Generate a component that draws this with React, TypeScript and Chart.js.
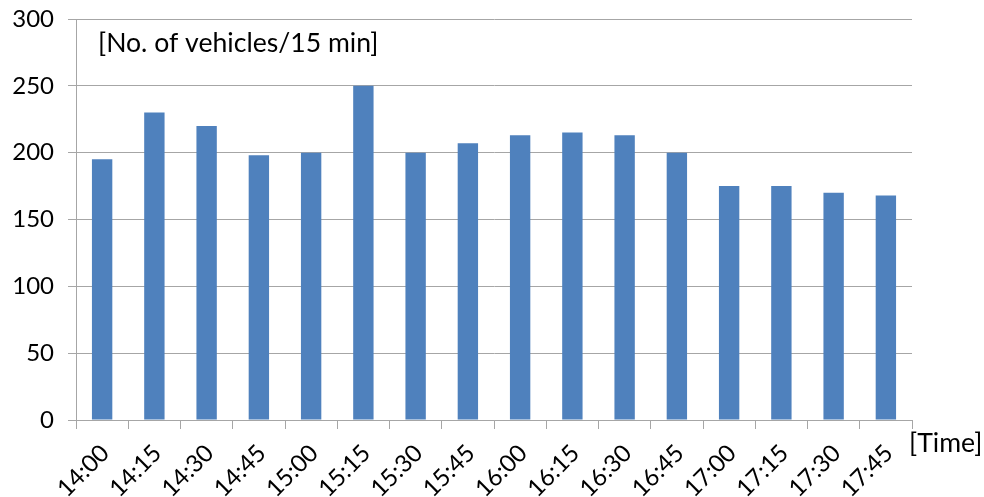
import React, { useEffect, useRef } from 'react';
import { Chart, registerables } from 'chart.js';

Chart.register(...registerables);

// Vehicle counts per 15-minute interval
const timeLabels = [
  '14:00', '14:15', '14:30', '14:45', '15:00', '15:15', '15:30', '15:45',
  '16:00', '16:15', '16:30', '16:45', '17:00', '17:15', '17:30', '17:45',
];
const vehicleCounts = [195, 230, 220, 198, 200, 250, 200, 207, 213, 215, 213, 200, 175, 175, 170, 168];
const yMin = 0;
const yMax = 300;
const yStep = 50;
const unitLabel = '[No. of vehicles/15 min]';
const axisTitle = '[Time]';

const FONT = 'Lato, "Open Sans", sans-serif';
const GRID = '#a6a6a6';
const BAR = '#4f81bd';

const annotationPlugin = {
  id: 'annotationText',
  afterDraw(chart: any) {
    const { ctx, chartArea } = chart;
    ctx.save();
    ctx.fillStyle = '#000';
    ctx.font = `26.6px ${FONT}`;
    ctx.textAlign = 'left';
    ctx.textBaseline = 'alphabetic';
    ctx.fillText(unitLabel, chartArea.left + 22, chartArea.top + 33);
    ctx.fillText(axisTitle, chartArea.right - 3, chartArea.bottom + 32);
    ctx.restore();
  },
};

export default function App() {
  const canvasRef = useRef<HTMLCanvasElement | null>(null);

  useEffect(() => {
    if (!canvasRef.current) return;
    const chart = new Chart(canvasRef.current, {
      type: 'bar',
      data: {
        labels: timeLabels,
        datasets: [
          {
            data: vehicleCounts,
            backgroundColor: BAR,
            borderWidth: 0,
            barPercentage: 0.39,
            categoryPercentage: 1.0,
          },
        ],
      },
      options: {
        responsive: false,
        animation: false,
        layout: { padding: { top: 19, right: 72, left: 0, bottom: 0 } },
        plugins: {
          legend: { display: false },
          tooltip: { enabled: false },
        },
        scales: {
          x: {
            grid: {
              display: true,
              drawOnChartArea: false,
              drawTicks: true,
              tickLength: 9,
              color: GRID,
              offset: true,
            },
            border: { color: GRID },
            ticks: {
              minRotation: 45,
              maxRotation: 45,
              autoSkip: false,
              color: '#000',
              padding: 10,
              labelOffset: 3,
              font: { family: FONT, size: 24 },
            },
            afterFit: (s: any) => {
              s.height = 77;
              s.paddingLeft = 0;
              s.paddingRight = 0;
            },
          },
          y: {
            min: yMin,
            max: yMax,
            ticks: {
              stepSize: yStep,
              color: '#000',
              padding: 14,
              font: { family: FONT, size: 24 },
            },
            grid: { color: GRID, tickLength: 8, drawTicks: true },
            border: { color: GRID },
            afterFit: (s: any) => {
              s.width = 76;
              s.paddingTop = 0;
              s.paddingBottom = 0;
            },
          },
        },
      },
      plugins: [annotationPlugin],
    });
    return () => chart.destroy();
  }, []);

  return (
    <div style={{ position: 'fixed', left: 0, top: 0, width: 984, height: 497, background: '#fff' }}>
      <canvas ref={canvasRef} width={984} height={497} style={{ width: 984, height: 497 }} />
    </div>
  );
}
